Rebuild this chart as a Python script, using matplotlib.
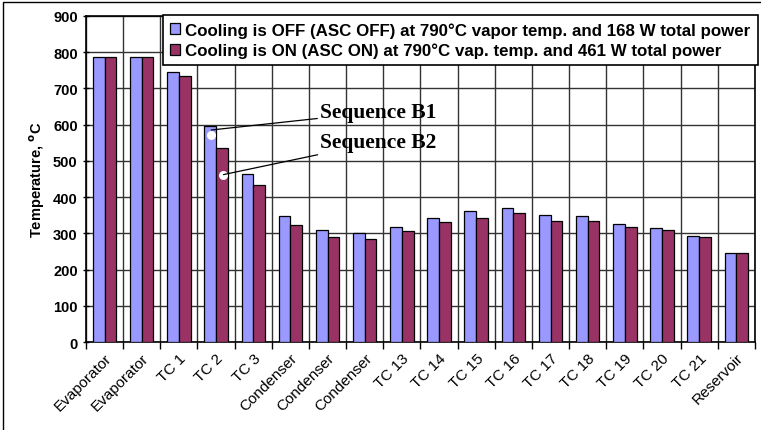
import matplotlib
matplotlib.use('Agg')
import matplotlib.pyplot as plt
from matplotlib.patches import Rectangle
import numpy as np

locations = ['Evaporator', 'Evaporator', 'TC 1', 'TC 2', 'TC 3', 'Condenser',
             'Condenser', 'Condenser', 'TC 13', 'TC 14', 'TC 15', 'TC 16',
             'TC 17', 'TC 18', 'TC 19', 'TC 20', 'TC 21', 'Reservoir']
temp_off = [786, 786, 746, 597, 465, 347, 310, 302, 317, 342, 361, 371,
            351, 347, 327, 314, 293, 245]
temp_on = [786, 786, 734, 536, 434, 323, 289, 285, 306, 330, 342, 355,
           334, 334, 317, 309, 289, 245]
label_off = 'Cooling is OFF (ASC OFF) at 790\u00b0C vapor temp. and 168 W total power'
label_on = 'Cooling is ON (ASC ON) at 790\u00b0C vap. temp. and 461 W total power'
seq_b1 = 570   # marked point on TC 2, cooling off
seq_b2 = 462   # marked point on TC 2, cooling on

plt.rcParams['font.family'] = ['Liberation Sans', 'DejaVu Sans']

fig = plt.figure(figsize=(7.61, 4.31), dpi=100)
ax = fig.add_axes([0.113, 0.204, 0.879, 0.757])

x = np.arange(len(locations))
w = 0.315
ax.bar(x - w/2, temp_off, w, color='#9999FF', edgecolor='black', lw=0.9,
       label=label_off, zorder=3)
ax.bar(x + w/2, temp_on, w, color='#993366', edgecolor='black', lw=0.9,
       label=label_on, zorder=3)

ax.set_xlim(-0.5, len(locations) - 0.5)
ax.set_ylim(0, 900)
ax.set_yticks(range(0, 901, 100))
ax.set_xticks(x)
ax.set_xticklabels(locations, rotation=45, ha='right', rotation_mode='anchor',
                   fontsize=11)
ax.set_xticks(np.arange(-0.5, len(locations)), minor=True)
ax.tick_params(axis='x', which='major', length=0, pad=6)
ax.tick_params(axis='x', which='minor', length=5, width=1, direction='out')
ax.tick_params(axis='y', length=5, width=1, direction='inout', labelsize=10.5)
for t in ax.get_yticklabels():
    t.set_fontweight('bold')
ax.grid(axis='y', color='#333333', lw=1, zorder=1)
ax.grid(axis='x', which='minor', color='#333333', lw=1, zorder=1)
for s in ax.spines.values():
    s.set_linewidth(1.2)

ax.set_ylabel('Temperature, $\\mathbf{^{o}}$C', fontweight='bold', fontsize=10.5,
              labelpad=4)

# white dots and callouts on TC 2
ax.scatter([3 - 0.13, 3 + 0.20], [seq_b1, seq_b2], s=30, color='white',
           zorder=5)
ax.annotate('Sequence B1', xy=(3 - 0.13, seq_b1 + 15), xytext=(5.8, 635),
            fontsize=15.5, fontweight='bold', family='Liberation Serif',
            va='center', arrowprops=dict(arrowstyle='-', color='black', lw=0.9,
                                         shrinkA=0, shrinkB=0), zorder=6)
ax.annotate('Sequence B2', xy=(3 + 0.20, seq_b2), xytext=(5.8, 552),
            fontsize=15.5, fontweight='bold', family='Liberation Serif',
            va='center', arrowprops=dict(arrowstyle='-', color='black', lw=0.9,
                                         shrinkA=0, shrinkB=0), zorder=6)

leg = ax.legend(loc='upper right', bbox_to_anchor=(1.004, 1.003),
                prop={'weight': 'bold', 'size': 12.2}, fancybox=False,
                edgecolor='black', framealpha=1, handlelength=0.6,
                handleheight=0.6, handletextpad=0.3, borderpad=0.42,
                labelspacing=0.3, borderaxespad=0)
leg.get_frame().set_linewidth(1.2)
leg.set_zorder(10)

# outer frame of the figure
fig.patches.append(Rectangle((3/761, -0.05), 1.2, 1.05 - 3/431, fill=False,
                             edgecolor='black', lw=1, transform=fig.transFigure))

fig.savefig('out.png', dpi=100)
